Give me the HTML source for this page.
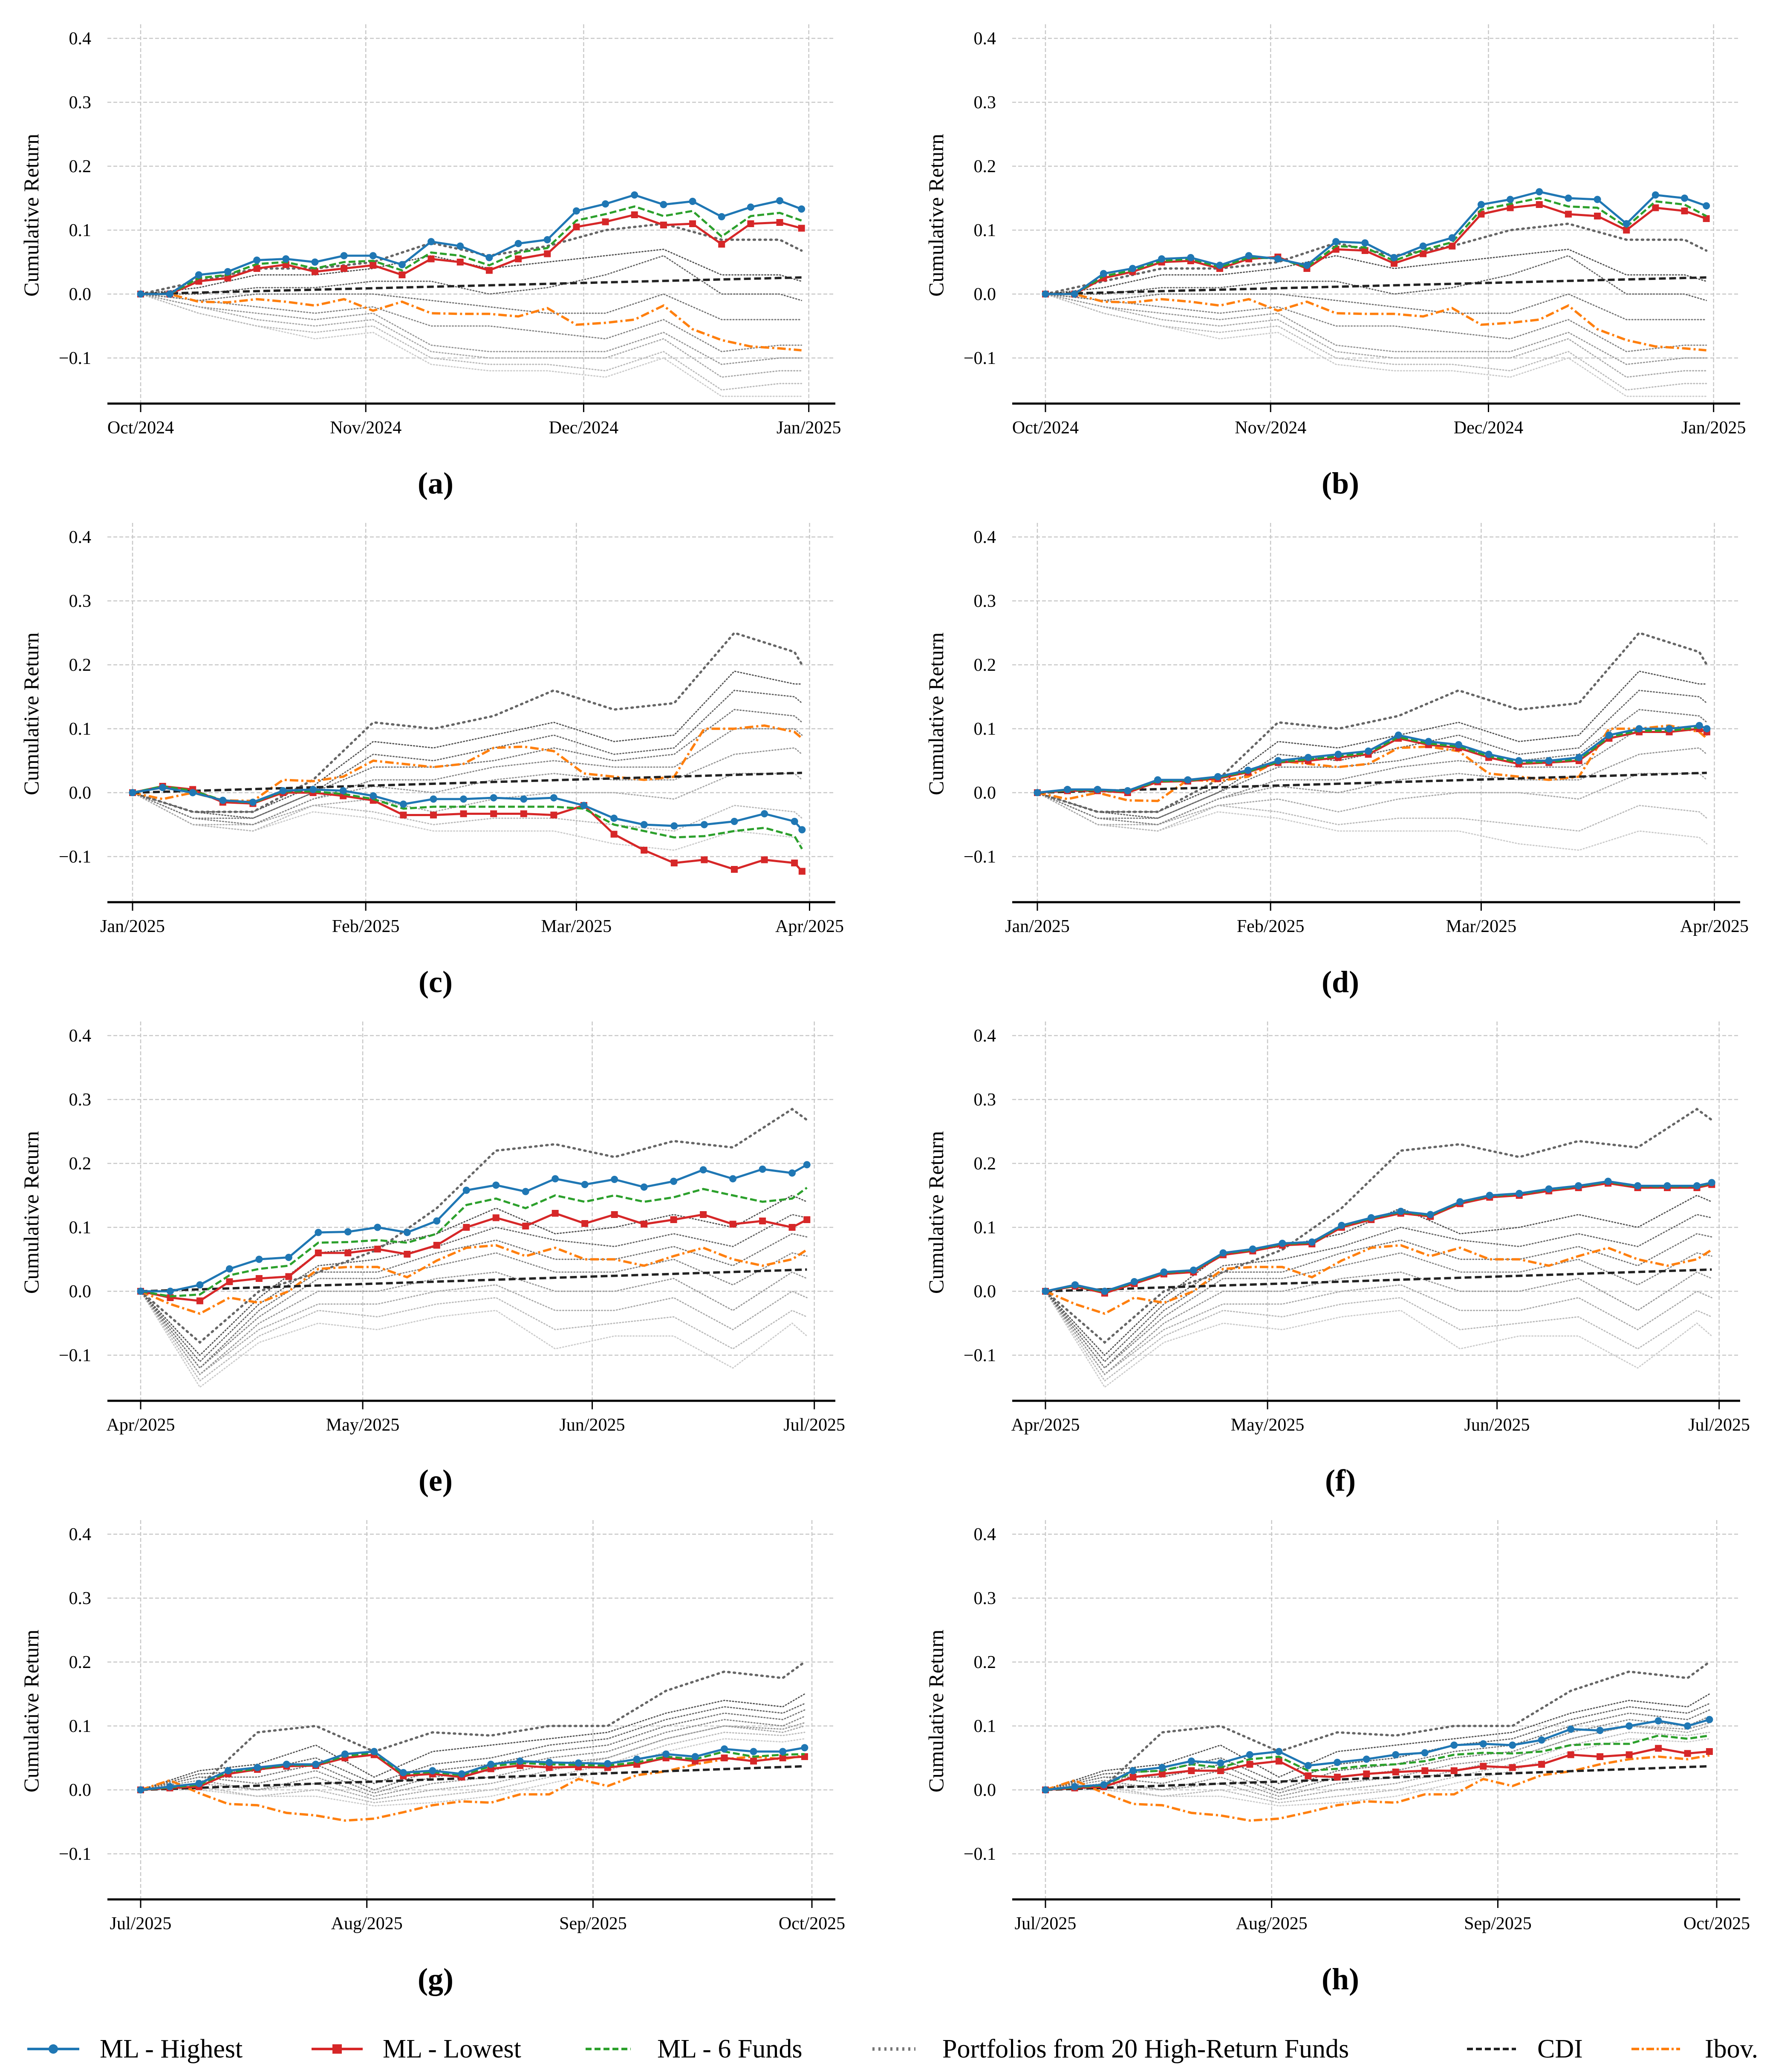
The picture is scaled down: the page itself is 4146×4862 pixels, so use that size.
<!DOCTYPE html>
<html><head><meta charset="utf-8"><style>
html,body{margin:0;padding:0;background:#fff}
svg{display:block}
text{font-family:"Liberation Serif",serif;fill:#000}
</style></head><body>
<svg id="fig" xmlns="http://www.w3.org/2000/svg" width="4146" height="4862" viewBox="0 0 4146 4862">
<rect width="4146" height="4862" fill="#fff"/>
<g id="panels"></g>
<g id="legend">
  <g>
    <line x1="64" y1="4808" x2="186" y2="4808" stroke="#1f77b4" stroke-width="6"/>
    <circle cx="125" cy="4808" r="11" fill="#1f77b4"/>
    <text x="234" y="4828" font-size="62">ML - Highest</text>
  </g>
  <g>
    <line x1="731" y1="4808" x2="851" y2="4808" stroke="#d62728" stroke-width="6"/>
    <rect x="780" y="4797" width="22" height="22" fill="#d62728"/>
    <text x="898" y="4828" font-size="62">ML - Lowest</text>
  </g>
  <g>
    <line x1="1374" y1="4808" x2="1480" y2="4808" stroke="#2ca02c" stroke-width="6" stroke-dasharray="14 7"/>
    <text x="1542" y="4828" font-size="62">ML - 6 Funds</text>
  </g>
  <g>
    <line x1="2047" y1="4808" x2="2148" y2="4808" stroke="#777" stroke-width="8" stroke-dasharray="5 9"/>
    <text x="2211" y="4828" font-size="62">Portfolios from 20 High-Return Funds</text>
  </g>
  <g>
    <line x1="3442" y1="4808" x2="3557" y2="4808" stroke="#222" stroke-width="6" stroke-dasharray="14 7"/>
    <text x="3607" y="4828" font-size="62">CDI</text>
  </g>
  <g>
    <line x1="3828" y1="4808" x2="3942" y2="4808" stroke="#ff7f0e" stroke-width="6" stroke-dasharray="18 6 5 6"/>
    <text x="4000" y="4828" font-size="62">Ibov.</text>
  </g>
</g>
</svg>
<script>
// ---------- shared period data ----------
const p1Days=[0,4,8,12,16,20,24,28,32,36,40,44,48,52,56,60,64,68,72,76,80,84,88,91];
const p2Days=[0,4,8,12,16,20,24,28,32,36,40,44,48,52,56,60,64,68,72,76,80,84,88,89];
const p3Days=[0,4,8,12,16,20,24,28,32,36,40,44,48,52,56,60,64,68,72,76,80,84,88,90];
const p4Days=[0,4,8,12,16,20,24,28,32,36,40,44,48,52,56,60,64,68,72,76,80,84,88,91];
const p1GrayDays=[0,8,16,24,32,40,48,56,64,72,80,88,91];
const p2GrayDays=[0,8,16,24,32,40,48,56,64,72,80,88,89];
const p3GrayDays=[0,8,16,24,32,40,48,56,64,72,80,88,90];
const p4GrayDays=[0,8,16,24,32,40,48,56,64,72,80,88,91];
const p1TickDays=[0,31,61,92];
const p2TickDays=[0,31,59,90];
const p3TickDays=[0,30,61,91];
const p4TickDays=[0,31,62,92];
const p1TickLabels=["Oct/2024","Nov/2024","Dec/2024","Jan/2025"];
const p2TickLabels=["Jan/2025","Feb/2025","Mar/2025","Apr/2025"];
const p3TickLabels=["Apr/2025","May/2025","Jun/2025","Jul/2025"];
const p4TickLabels=["Jul/2025","Aug/2025","Sep/2025","Oct/2025"];
const yTicks=[-0.1,0.0,0.1,0.2,0.3,0.4];
const yTickLabels=["\u22120.1","0.0","0.1","0.2","0.3","0.4"];

const p1Orange=[0,0,-0.012,-0.013,-0.008,-0.012,-0.018,-0.008,-0.026,-0.012,-0.03,-0.031,-0.031,-0.035,-0.022,-0.048,-0.045,-0.04,-0.018,-0.055,-0.072,-0.082,-0.085,-0.088];
const p2Orange=[0,-0.01,0,-0.012,-0.013,0.02,0.018,0.025,0.05,0.045,0.04,0.045,0.07,0.072,0.065,0.03,0.025,0.02,0.025,0.1,0.1,0.105,0.095,0.085];
const p3Orange=[0,-0.02,-0.035,-0.01,-0.018,0,0.035,0.038,0.038,0.022,0.048,0.068,0.072,0.055,0.068,0.05,0.05,0.04,0.055,0.068,0.05,0.04,0.05,0.065];
const p4Orange=[0,0.015,-0.005,-0.022,-0.024,-0.036,-0.04,-0.048,-0.045,-0.035,-0.024,-0.018,-0.02,-0.007,-0.007,0.017,0.006,0.023,0.029,0.04,0.048,0.052,0.048,0.054];
const p1Cdi=[0,0.026];
const p2Cdi=[0,0.031];
const p3Cdi=[0,0.034];
const p4Cdi=[0,0.037];

const p1Grays=[
[0,0.02,0.04,0.04,0.05,0.08,0.06,0.075,0.1,0.11,0.085,0.085,0.068],
[0,0.01,0.03,0.03,0.04,0.06,0.04,0.05,0.06,0.07,0.03,0.03,0.02],
[0,0,0.01,0.01,0.02,0.02,0,0.01,0.03,0.06,0,0,-0.01],
[0,-0.01,0,0,0,-0.01,-0.02,-0.03,-0.03,0,-0.04,-0.04,-0.04],
[0,-0.01,-0.02,-0.03,-0.02,-0.05,-0.05,-0.06,-0.07,-0.04,-0.09,-0.08,-0.08],
[0,-0.02,-0.03,-0.04,-0.03,-0.08,-0.09,-0.09,-0.09,-0.06,-0.11,-0.1,-0.1],
[0,-0.02,-0.04,-0.05,-0.04,-0.09,-0.1,-0.1,-0.1,-0.07,-0.13,-0.12,-0.12],
[0,-0.03,-0.05,-0.06,-0.05,-0.1,-0.11,-0.11,-0.12,-0.09,-0.15,-0.14,-0.14],
[0,-0.03,-0.05,-0.07,-0.06,-0.11,-0.12,-0.12,-0.13,-0.1,-0.16,-0.16,-0.16]];
const p2Grays=[
[0,-0.03,-0.03,0.02,0.11,0.1,0.12,0.16,0.13,0.14,0.25,0.22,0.2],
[0,-0.03,-0.03,0.01,0.08,0.07,0.09,0.11,0.08,0.09,0.19,0.17,0.17],
[0,-0.03,-0.04,0,0.06,0.05,0.07,0.09,0.06,0.07,0.16,0.15,0.14],
[0,-0.04,-0.04,0,0.04,0.04,0.05,0.07,0.05,0.06,0.13,0.12,0.11],
[0,-0.04,-0.05,-0.01,0.02,0.02,0.04,0.05,0.04,0.04,0.1,0.1,0.09],
[0,-0.04,-0.05,-0.01,0.01,0,0.02,0.03,0.02,0.02,0.06,0.07,0.06],
[0,-0.05,-0.05,-0.02,-0.01,-0.03,-0.01,0,0,-0.01,0.03,0.03,0.02],
[0,-0.05,-0.06,-0.02,-0.03,-0.05,-0.04,-0.04,-0.05,-0.06,-0.02,-0.03,-0.04],
[0,-0.05,-0.06,-0.03,-0.04,-0.06,-0.06,-0.06,-0.08,-0.09,-0.06,-0.07,-0.08]];
const p3Grays=[
[0,-0.08,0,0.03,0.065,0.13,0.22,0.23,0.21,0.235,0.225,0.285,0.268],
[0,-0.1,-0.01,0.06,0.07,0.09,0.13,0.09,0.1,0.12,0.1,0.15,0.14],
[0,-0.11,-0.02,0.04,0.05,0.07,0.1,0.08,0.07,0.09,0.07,0.12,0.115],
[0,-0.12,-0.03,0.03,0.03,0.06,0.08,0.05,0.05,0.07,0.04,0.09,0.085],
[0,-0.12,-0.04,0.02,0.02,0.04,0.06,0.03,0.03,0.05,0.01,0.06,0.055],
[0,-0.13,-0.05,0,0,0.02,0.03,0,0,0.02,-0.03,0.03,0.02],
[0,-0.13,-0.06,-0.02,-0.02,0,0.01,-0.03,-0.03,-0.01,-0.06,0,-0.01],
[0,-0.14,-0.07,-0.03,-0.04,-0.02,-0.01,-0.06,-0.05,-0.04,-0.09,-0.03,-0.04],
[0,-0.15,-0.08,-0.05,-0.06,-0.04,-0.03,-0.09,-0.07,-0.07,-0.12,-0.05,-0.07]];
const p4Grays=[
[0,0.005,0.09,0.1,0.06,0.09,0.085,0.1,0.1,0.155,0.185,0.175,0.2],
[0,0.03,0.04,0.07,0.02,0.06,0.07,0.08,0.09,0.12,0.14,0.13,0.15],
[0,0.025,0.03,0.05,0.01,0.04,0.05,0.07,0.08,0.11,0.13,0.12,0.135],
[0,0.02,0.02,0.04,0,0.03,0.04,0.06,0.07,0.1,0.12,0.11,0.125],
[0,0.02,0.01,0.03,-0.005,0.02,0.03,0.05,0.06,0.09,0.11,0.1,0.115],
[0,0.015,0,0.02,-0.01,0.01,0.02,0.04,0.05,0.08,0.1,0.095,0.105],
[0,0.01,0,0.01,-0.015,0,0.01,0.03,0.05,0.08,0.1,0.09,0.1],
[0,0.005,-0.01,0,-0.02,-0.01,0,0.02,0.04,0.07,0.09,0.085,0.09],
[0,0,-0.01,-0.01,-0.025,-0.02,-0.01,0.01,0.03,0.06,0.08,0.075,0.08]];

// ---------- per-panel ML series ----------
const aBlue=[0,0,0.03,0.035,0.053,0.055,0.05,0.06,0.06,0.046,0.082,0.075,0.057,0.079,0.085,0.13,0.141,0.155,0.14,0.145,0.121,0.136,0.146,0.133];
const aRed=[0,0,0.02,0.025,0.04,0.046,0.035,0.04,0.045,0.03,0.055,0.05,0.037,0.055,0.063,0.105,0.113,0.124,0.108,0.11,0.078,0.11,0.112,0.103];
const aGreen=[0,0,0.025,0.03,0.047,0.05,0.04,0.05,0.052,0.037,0.065,0.06,0.045,0.065,0.072,0.115,0.125,0.137,0.122,0.13,0.09,0.122,0.127,0.115];
const bBlue=[0,0,0.032,0.04,0.055,0.057,0.045,0.06,0.055,0.045,0.082,0.08,0.057,0.075,0.088,0.14,0.148,0.16,0.15,0.148,0.11,0.155,0.15,0.138];
const bRed=[0,0,0.025,0.035,0.05,0.052,0.04,0.055,0.058,0.04,0.07,0.068,0.048,0.063,0.075,0.125,0.135,0.14,0.125,0.122,0.1,0.135,0.13,0.118];
const bGreen=[0,0,0.028,0.037,0.052,0.055,0.042,0.057,0.056,0.042,0.075,0.073,0.052,0.069,0.081,0.132,0.141,0.15,0.137,0.135,0.105,0.145,0.14,0.122];
const cBlue=[0,0.008,0,-0.012,-0.015,0.003,0.005,0.003,-0.005,-0.018,-0.01,-0.01,-0.008,-0.01,-0.008,-0.02,-0.04,-0.05,-0.052,-0.05,-0.045,-0.033,-0.045,-0.058];
const cRed=[0,0.01,0.005,-0.015,-0.017,0,0,-0.005,-0.012,-0.035,-0.035,-0.033,-0.033,-0.033,-0.035,-0.02,-0.065,-0.09,-0.11,-0.105,-0.12,-0.105,-0.11,-0.123];
const cGreen=[0,0.01,0.003,-0.012,-0.016,0.002,0.002,-0.002,-0.01,-0.025,-0.022,-0.022,-0.022,-0.022,-0.022,-0.025,-0.05,-0.06,-0.07,-0.068,-0.06,-0.055,-0.068,-0.088];
const dBlue=[0,0.005,0.005,0.003,0.02,0.02,0.025,0.035,0.05,0.055,0.06,0.065,0.09,0.08,0.075,0.06,0.05,0.05,0.055,0.09,0.1,0.1,0.105,0.1];
const dRed=[0,0.003,0.003,0,0.017,0.018,0.022,0.032,0.047,0.05,0.055,0.06,0.085,0.075,0.07,0.055,0.045,0.047,0.05,0.085,0.095,0.095,0.1,0.095];
const dGreen=[0,0.004,0.004,0.002,0.018,0.019,0.024,0.033,0.048,0.052,0.057,0.062,0.087,0.077,0.072,0.057,0.047,0.048,0.052,0.087,0.097,0.097,0.102,0.097];
const eBlue=[0,0,0.01,0.035,0.05,0.053,0.092,0.093,0.1,0.092,0.11,0.158,0.166,0.156,0.176,0.167,0.175,0.163,0.172,0.19,0.176,0.191,0.185,0.198];
const eRed=[0,-0.01,-0.015,0.015,0.02,0.023,0.06,0.06,0.066,0.058,0.072,0.1,0.115,0.102,0.122,0.106,0.12,0.105,0.112,0.12,0.105,0.11,0.1,0.112];
const eGreen=[0,-0.008,-0.005,0.025,0.035,0.04,0.076,0.077,0.08,0.076,0.09,0.135,0.145,0.13,0.15,0.14,0.15,0.14,0.147,0.16,0.15,0.14,0.145,0.162];
const fBlue=[0,0.01,0,0.015,0.03,0.033,0.06,0.066,0.075,0.077,0.103,0.115,0.125,0.12,0.14,0.15,0.153,0.16,0.165,0.172,0.165,0.165,0.165,0.17];
const fRed=[0,0.008,-0.003,0.012,0.027,0.03,0.057,0.063,0.072,0.074,0.1,0.112,0.122,0.117,0.137,0.147,0.15,0.157,0.162,0.169,0.162,0.162,0.162,0.167];
const fGreen=[0,0.009,-0.001,0.014,0.029,0.032,0.059,0.065,0.074,0.076,0.102,0.114,0.124,0.119,0.139,0.149,0.152,0.159,0.164,0.171,0.164,0.164,0.164,0.169];
const gBlue=[0,0.005,0.01,0.03,0.035,0.04,0.04,0.056,0.06,0.027,0.03,0.025,0.04,0.045,0.043,0.042,0.041,0.048,0.056,0.052,0.064,0.06,0.06,0.066];
const gRed=[0,0.003,0.005,0.025,0.032,0.037,0.038,0.05,0.055,0.022,0.025,0.02,0.033,0.038,0.035,0.036,0.035,0.04,0.05,0.045,0.05,0.045,0.05,0.052];
const gGreen=[0,0.004,0.008,0.028,0.033,0.039,0.039,0.053,0.058,0.025,0.028,0.023,0.037,0.042,0.04,0.039,0.038,0.043,0.052,0.048,0.06,0.052,0.055,0.056];
const hBlue=[0,0.005,0.008,0.03,0.035,0.045,0.042,0.055,0.06,0.038,0.043,0.048,0.055,0.058,0.07,0.072,0.07,0.078,0.095,0.093,0.1,0.108,0.1,0.11];
const hRed=[0,0.003,0.005,0.02,0.025,0.03,0.03,0.04,0.045,0.022,0.02,0.025,0.028,0.03,0.03,0.037,0.035,0.04,0.055,0.052,0.055,0.065,0.057,0.06];
const hGreen=[0,0.004,0.007,0.028,0.03,0.04,0.035,0.048,0.052,0.03,0.033,0.038,0.04,0.045,0.055,0.058,0.057,0.06,0.07,0.072,0.072,0.085,0.08,0.085];

const NS="http://www.w3.org/2000/svg";
const periods=[
 {days:p1Days,gdays:p1GrayDays,grays:p1Grays,orange:p1Orange,cdi:p1Cdi,tickDays:p1TickDays,tickLabels:p1TickLabels,x0:330,k:17.04},
 {days:p2Days,gdays:p2GrayDays,grays:p2Grays,orange:p2Orange,cdi:p2Cdi,tickDays:p2TickDays,tickLabels:p2TickLabels,x0:311,k:17.65},
 {days:p3Days,gdays:p3GrayDays,grays:p3Grays,orange:p3Orange,cdi:p3Cdi,tickDays:p3TickDays,tickLabels:p3TickLabels,x0:330,k:17.37},
 {days:p4Days,gdays:p4GrayDays,grays:p4Grays,orange:p4Orange,cdi:p4Cdi,tickDays:p4TickDays,tickLabels:p4TickLabels,x0:330,k:17.12}];
const panels=[
 {id:"a",p:0,col:0,row:0,blue:aBlue,red:aRed,green:aGreen},
 {id:"b",p:0,col:1,row:0,blue:bBlue,red:bRed,green:bGreen},
 {id:"c",p:1,col:0,row:1,blue:cBlue,red:cRed,green:cGreen},
 {id:"d",p:1,col:1,row:1,blue:dBlue,red:dRed,green:dGreen},
 {id:"e",p:2,col:0,row:2,blue:eBlue,red:eRed,green:eGreen},
 {id:"f",p:2,col:1,row:2,blue:fBlue,red:fRed,green:fGreen},
 {id:"g",p:3,col:0,row:3,blue:gBlue,red:gRed,green:gGreen},
 {id:"h",p:3,col:1,row:3,blue:hBlue,red:hRed,green:hGreen}];
const grayStyles=[["#666",5.5,"3 10"],["#555",3,"2 5"],["#666",3,"2 5"],["#777",3,"2 5"],["#888",3,"2 5"],["#999",3,"2 5"],["#aaa",3,"2 5"],["#bbb",3,"2 5"],["#ccc",3,"2 5"]];

function mk(tag,attrs,parent){const e=document.createElementNS(NS,tag);for(const k in attrs)e.setAttribute(k,attrs[k]);parent.appendChild(e);return e;}
const root=document.getElementById("panels");

panels.forEach(pn=>{
  const P=periods[pn.p];
  const ox=pn.col*2123, oy=pn.row*1170;
  const xs=d=>ox+P.x0+d*P.k;
  const ys=v=>oy+690-v*1500;
  const left=ox+252,right=ox+1960,top=oy+57,bottom=oy+947;
  const g=mk("g",{},root);
  
  
  const cid="clip"+pn.id;
  const cp=mk("clipPath",{id:cid},g);
  mk("rect",{x:left,y:top,width:right-left,height:bottom-top},cp);
  // grid
  yTicks.forEach((t,i)=>{
    const l=mk("line",{x1:left,x2:right,y1:ys(t),y2:ys(t),stroke:"#c8c8c8","stroke-width":2.5,"stroke-dasharray":"9 5"},g);
    
    
    const tx=mk("text",{x:ox+214,y:ys(t)+14,"font-size":42,"text-anchor":"end"},g);
    tx.textContent=yTickLabels[i];
    
    
  });
  P.tickDays.forEach((d,i)=>{
    const l=mk("line",{x1:xs(d),x2:xs(d),y1:top,y2:bottom,stroke:"#c8c8c8","stroke-width":2.5,"stroke-dasharray":"9 5"},g);
    
    
    const tk=mk("line",{x1:xs(d),x2:xs(d),y1:bottom,y2:bottom+20,stroke:"#000","stroke-width":3},g);
    
    
    const tx=mk("text",{x:xs(d),y:bottom+70,"font-size":42,"text-anchor":"middle"},g);
    tx.textContent=P.tickLabels[i];
    
    
  });
  const ax=mk("line",{x1:left,x2:right,y1:bottom,y2:bottom,stroke:"#000","stroke-width":5},g);
  
  
  const yl=mk("text",{x:0,y:0,"font-size":50,"text-anchor":"middle",transform:`translate(${ox+90},${oy+505}) rotate(-90)`},g);
  yl.textContent="Cumulative Return";
  
  
  const lab=mk("text",{x:ox+1022,y:oy+1158,"font-size":72,"font-weight":"bold","text-anchor":"middle"},g);
  lab.textContent="("+pn.id+")";
  
  
  const data=mk("g",{"clip-path":`url(#${cid})`},g);
  const pts=(days,vals)=>vals.map((v,i)=>xs(days[i]).toFixed(1)+","+ys(v).toFixed(1)).join(" ");
  // grays (draw lightest first)
  for(let i=P.grays.length-1;i>=0;i--){
    const st=grayStyles[i];
    const pl=mk("polyline",{points:pts(P.gdays,P.grays[i]),fill:"none",stroke:st[0],"stroke-width":st[1],"stroke-dasharray":st[2],"stroke-linecap":"round"},data);
    
    
  }
  const or=mk("polyline",{points:pts(P.days,P.orange),fill:"none",stroke:"#ff7f0e","stroke-width":5.5,"stroke-dasharray":"20 7 5 7"},data);
  
  
  const cdiDays=[0,P.days[P.days.length-1]];
  const cd=mk("polyline",{points:pts(cdiDays,P.cdi),fill:"none",stroke:"#222","stroke-width":5.5,"stroke-dasharray":"16 8"},data);
  
  
  const rl=mk("polyline",{points:pts(P.days,pn.red),fill:"none",stroke:"#d62728","stroke-width":5,"stroke-linejoin":"round"},data);
  
  
  pn.red.forEach((v,i)=>{
    const r=mk("rect",{x:xs(P.days[i])-8,y:ys(v)-8,width:16,height:16,fill:"#d62728"},data);
    
    
  });
  const gl=mk("polyline",{points:pts(P.days,pn.green),fill:"none",stroke:"#2ca02c","stroke-width":5,"stroke-dasharray":"16 7"},data);
  
  
  const bl=mk("polyline",{points:pts(P.days,pn.blue),fill:"none",stroke:"#1f77b4","stroke-width":5,"stroke-linejoin":"round"},data);
  
  
  pn.blue.forEach((v,i)=>{
    const c=mk("circle",{cx:xs(P.days[i]),cy:ys(v),r:8.5,fill:"#1f77b4"},data);
    
    
  });
});
</script>
</body></html>
